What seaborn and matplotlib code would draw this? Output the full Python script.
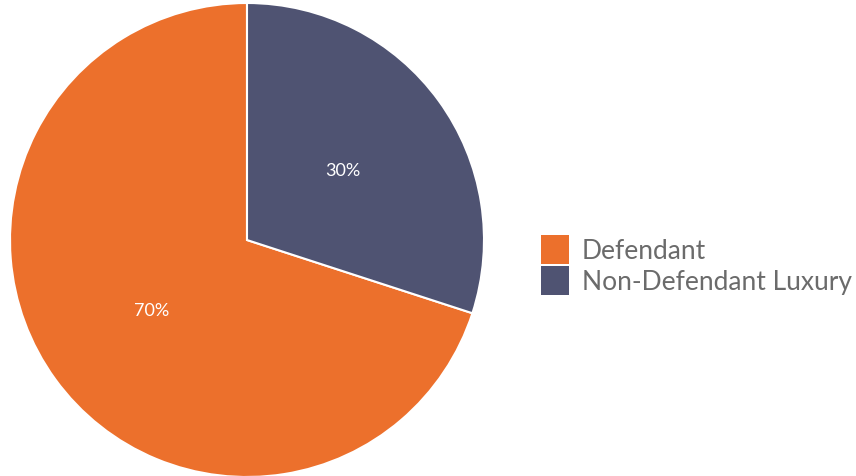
import matplotlib.pyplot as plt
import matplotlib.patches as mpatches
import seaborn as sns

# Data
categories = ['Defendant', 'Non-Defendant Luxury']
shares = [70, 30]
colors = ['#EC702C', '#4F5372']

sns.set_theme(style='white')
plt.rcParams['font.family'] = ['Lato', 'DejaVu Sans']

fig = plt.figure(figsize=(8.56, 4.77), dpi=100)
W, H = 856, 477
cx, cy, r = 247, 241, 237
ax = fig.add_axes([(cx - r) / W, (H - cy - r) / H, 2 * r / W, 2 * r / H])

wedges, texts, autotexts = ax.pie(
    shares, colors=colors, startangle=90, counterclock=True,
    autopct='%d%%', pctdistance=0.5,
    wedgeprops=dict(edgecolor='white', linewidth=1.5),
    textprops=dict(color='white', fontsize=13))
ax.set_xlim(-1, 1)
ax.set_ylim(-1, 1)
ax.set_aspect('equal')

handles = [mpatches.Patch(facecolor=c, edgecolor='none') for c in colors]
fig.legend(handles, categories, loc='center left', bbox_to_anchor=(528 / W, 1 - 266 / H),
           frameon=False, prop=dict(size=19), handlelength=1.05,
           handleheight=1.3, handletextpad=0.5, labelspacing=0.08, borderpad=0,
           labelcolor='#6b6b6b')

fig.savefig('out.png', dpi=100)
